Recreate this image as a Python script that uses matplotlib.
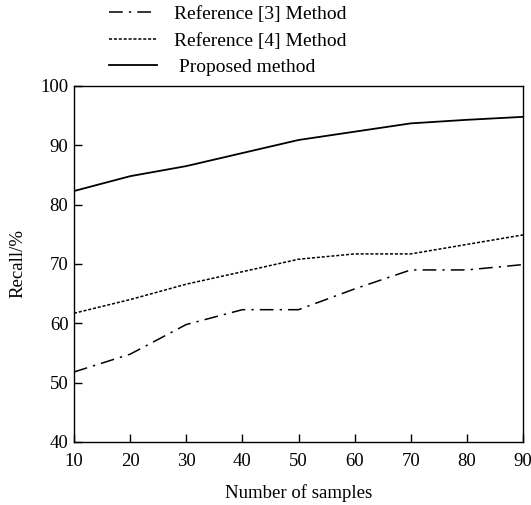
import matplotlib
matplotlib.use("Agg")
import matplotlib.pyplot as plt

plt.rcParams['font.family'] = ['Liberation Serif', 'DejaVu Serif']

samples = [10, 20, 30, 40, 50, 60, 70, 80, 90]
ref3 = [51.8, 54.8, 59.8, 62.3, 62.3, 65.8, 69.0, 69.0, 69.9]
ref4 = [61.7, 64.0, 66.6, 68.7, 70.8, 71.7, 71.7, 73.3, 74.9]
proposed = [82.3, 84.8, 86.5, 88.7, 90.9, 92.3, 93.7, 94.3, 94.8]
labels = ['Reference [3] Method', 'Reference [4] Method', ' Proposed method']

fig = plt.figure(figsize=(5.31, 5.05), dpi=100)
ax = fig.add_axes([74 / 531, 63 / 505, 449 / 531, 356 / 505])

ax.plot(samples, ref3, color='black', lw=1.1, ls=(0, (9, 4, 1.5, 4)), label=labels[0])
ax.plot(samples, ref4, color='black', lw=1.1, ls=(0, (2, 1.2)), label=labels[1])
ax.plot(samples, proposed, color='black', lw=1.3, ls='-', label=labels[2])

ax.set_xlim(10, 90)
ax.set_ylim(40, 100)
ax.set_xticks(samples)
ax.set_yticks(range(40, 101, 10))
ax.tick_params(direction='in', length=6, width=1, labelsize=13.5, pad=8)
ax.tick_params(axis='y', pad=4)
for s in ax.spines.values():
    s.set_linewidth(1)

ax.set_xlabel('Number of samples', fontsize=13.5, labelpad=10)
ax.set_ylabel('Recall/%', fontsize=13.5, labelpad=10)

fig.legend(loc='upper left', bbox_to_anchor=(97 / 531, 1.012), frameon=False,
           fontsize=14, handlelength=2.5, handletextpad=0.85, labelspacing=0.45,
           borderpad=0.1)

fig.savefig('out.png', dpi=100)
